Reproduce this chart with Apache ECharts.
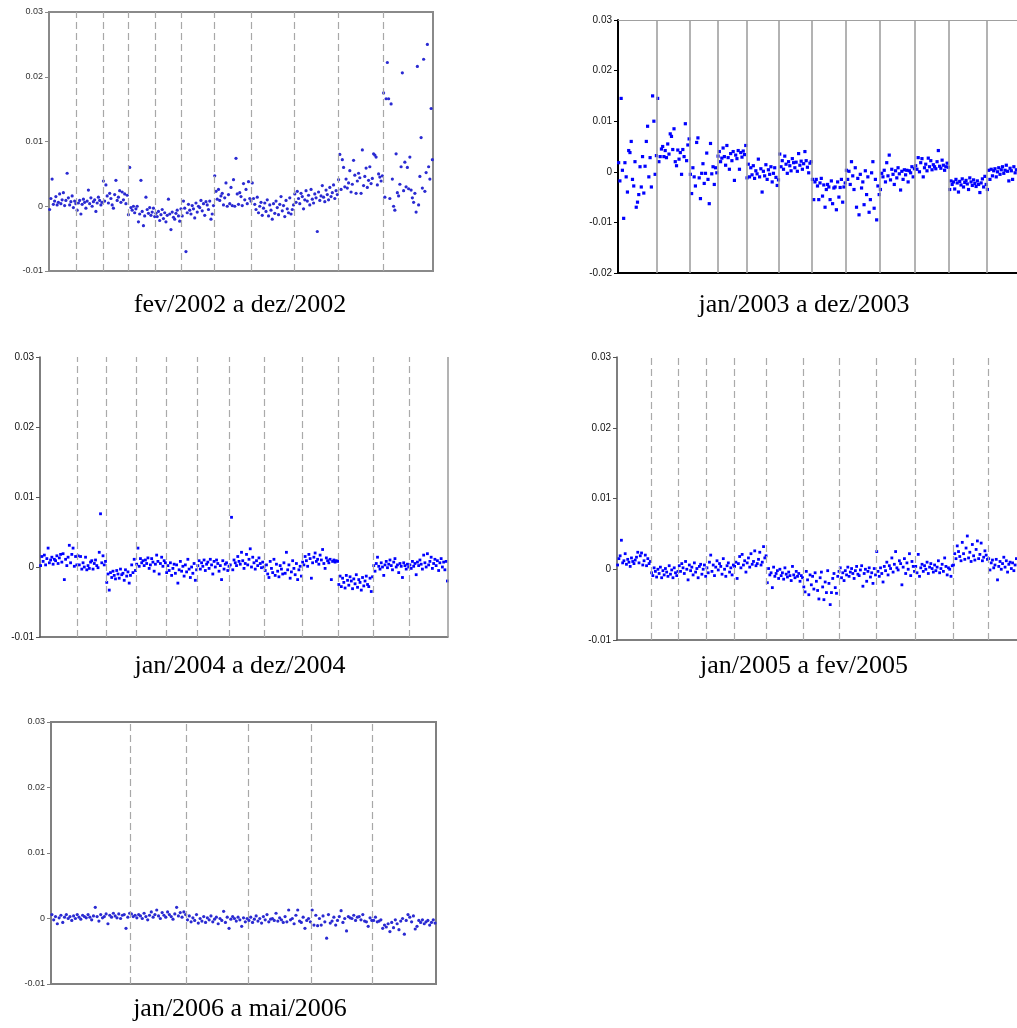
<!DOCTYPE html>
<html>
<head>
<meta charset="utf-8">
<script src="https://cdn.jsdelivr.net/npm/echarts@6/dist/echarts.min.js"></script>
<style>
html,body{margin:0;padding:0;background:#fff;}
#chart{width:1017px;height:1028px;}
</style>
</head>
<body>
<div id="chart"></div>
<script>
// Values are in thousandths (x 0.001), one array per month, in time order.
const SCALE = 0.001;

// Panel 1: fev/2002 a dez/2002
const y2002_fev = [-0.5,1.2,4.2,0.3,0.8,1.5,0.2,0.6,1.9,0.4,1.0,2.1,0.1,0.9,5.1,1.3,0.2,0.7,1.6,-0.2,0.8,0.4];
const y2002_mar = [-0.6,0.5,0.9,-1.2,0.3,1.1,0.6,-0.3,0.8,2.5,0.4,1.3,0.0,0.7,1.0,-0.8,0.5,1.4,0.9,0.2,0.6];
const y2002_abr = [3.9,0.8,3.3,1.6,0.5,2.0,1.2,0.2,-0.3,1.8,4.0,0.9,1.4,2.4,0.6,2.2,1.0,1.9,0.4,1.7];
const y2002_mai = [-1.3,6.0,-0.2,-0.6,0.0,-1.0,-0.4,0.0,-2.4,-1.2,4.0,-0.8,-3.0,-1.5,1.4,-0.5,-1.1,-0.2,-1.4,-0.9,-0.3,-1.6];
const y2002_jun = [-1.1,-1.6,-0.8,-2.2,-1.3,-0.5,-1.9,-1.0,-2.4,-1.4,1.1,-1.2,-3.6,-0.9,-1.7,-2.0,-1.1,-0.6,-1.5,-2.3,-0.4];
const y2002_jul = [-1.5,0.8,-0.3,-7.0,-1.0,0.3,-0.6,-1.2,0.1,-0.4,-1.8,0.5,-0.9,0.0,-0.2,0.9,-0.7,0.4,-1.4,0.7,0.2,-0.5,0.8,-2.0,-1.2,0.1];
const y2002_ago = [4.7,2.3,1.1,2.6,0.9,1.6,2.0,0.2,1.3,3.6,0.0,1.8,0.4,2.9,0.1,4.1,0.0,7.4,1.9,0.3,2.1,1.5,0.1,3.5,1.0,2.6,0.4,3.8,1.2,0.8];
const y2002_set = [3.6,1.2,0.3,-0.5,1.4,-1.0,0.0,0.6,-1.4,-0.3,0.5,-0.8,1.0,-1.5,0.2,-0.6,-2.0,0.4,-1.1,0.8,-0.2,-1.3,0.3,1.5,-0.7,0.1,-1.6,0.9,-0.4,-1.0,1.3,-1.2,-0.5,0.2];
const y2002_out = [1.9,0.6,2.3,1.2,0.4,2.0,1.5,-0.4,1.0,2.4,0.8,1.7,0.2,2.6,1.1,0.5,1.9,1.3,-3.9,2.2,0.9,1.6,3.2,1.4,0.7,2.5,1.8,1.0,2.9,1.5,2.1,3.3,1.2,2.4,1.8];
const y2002_nov = [4.1,8.0,2.6,7.2,6.0,3.0,4.2,2.8,3.6,5.5,2.2,3.4,7.1,4.8,2.0,3.9,5.1,4.4,2.0,8.7,3.2,4.6,5.9,2.9,4.0,6.1,3.5,4.3,8.1,7.9,7.6,3.3,5.0,4.5,3.9,4.7];
const y2002_dez = [17.5,1.4,16.6,22.2,16.6,1.2,15.8,4.2,0.0,-0.6,8.1,2.1,1.6,3.4,6.1,20.6,2.4,6.8,3.0,6.0,2.7,7.6,2.5,1.3,0.6,2.0,-0.9,21.6,0.2,4.6,10.6,2.8,22.7,2.3,5.2,25.0,6.1,4.2,15.1,7.2];

// Panel 2: jan/2003 a dez/2003
const y2003_jan = [1.8,-1.8,14.5,0.3,-9.2,1.8,-1.0,-4.0,4.2,3.8,6.0,-1.5,-2.8,2.0,-7.0,-6.0,-4.5,1.0,-3.0,3.0,-4.2,1.1,6.0,9.0,-1.0,2.8,-3.0,15.0,10.0,-0.5,3.2];
const y2003_fev = [14.5,2.0,3.0,4.5,5.0,3.0,4.2,2.8,5.5,3.5,7.5,7.0,4.4,8.5,2.0,1.2,4.3,2.5,3.8,-0.5,4.4,3.0,9.5,2.2,5.3,6.5];
const y2003_mar = [-0.5,-4.3,0.8,-1.0,-2.8,5.8,6.7,-1.2,-5.3,-0.3,1.6,-2.3,-0.3,3.7,-1.5,-6.3,5.6,-0.4,1.0,-2.5,0.8,-0.2];
const y2003_abr = [3.1,4.0,2.0,2.7,4.7,3.0,1.3,5.2,2.8,0.5,3.6,2.2,4.0,-1.7,3.3,2.6,4.2,0.5,3.8,2.9,4.1,3.4,5.2];
const y2003_mai = [-1.2,1.5,-1.0,0.8,-0.6,1.2,-1.3,0.2,-0.4,2.5,-1.0,0.6,-4.0,0.1,-0.8,1.4,-1.5,0.4,-0.5,1.0,-2.0,-0.3,0.8,-1.1,-2.7,-1.6];
const y2003_jun = [3.5,1.0,2.2,0.5,3.1,1.5,-0.3,2.0,1.2,0.2,2.6,1.8,0.8,1.9,0.1,3.6,1.3,2.1,0.5,1.6,4.0,2.2,0.9,-0.2,1.7,2.0];
const y2003_jul = [-1.5,-5.5,-2.0,-1.5,-2.8,-5.5,-2.2,-1.3,-4.8,-2.6,-7.0,-3.5,-2.5,-3.0,-5.5,-1.8,-6.3,-3.2,-3.0,-7.5,-2.0,-5.0,-3.1,-1.5,-6.0,-3.0,-2.2];
const y2003_ago = [0.3,-1.5,0.1,-2.5,2.0,-0.8,-3.5,0.8,-7.0,-1.3,-8.5,-0.5,-3.2,-2.0,-6.5,0.2,-4.5,-1.0,-8.0,-5.5,-0.2,2.0,-7.2,-1.5,-9.5,-2.8,-4.5];
const y2003_set = [-3.5,-0.3,-1.0,0.3,-2.0,1.8,-0.8,3.3,-1.6,0.5,-0.5,-2.5,0.2,-1.2,0.8,-0.4,-3.6,0.1,-1.5,0.4,-0.6,0.3,-2.0,0.2,-0.2,1.0,-1.0,0.6];
const y2003_out = [1.2,0.5,2.8,0.0,1.8,2.6,-1.0,0.8,1.5,0.2,2.7,1.0,2.2,0.4,1.4,1.0,0.6,2.0,4.2,1.1,0.7,2.3,1.3,0.3,1.0,1.7,0.9];
const y2003_nov = [-3.5,-1.8,-2.5,-2.0,-3.4,-1.5,-2.2,-4.0,-1.9,-2.6,-1.4,-3.0,-2.1,-1.7,-2.4,-3.5,-1.2,-2.0,-2.7,-1.6,-2.3,-2.9,-1.8,-2.5,-4.1,-2.2,-1.4,-3.0,-0.9,-2.5];
const y2003_dez = [-3.5,0.3,-1.5,0.5,-0.8,0.2,0.6,-1.0,0.0,0.8,-0.5,0.4,1.0,-0.3,0.3,1.3,0.1,-1.8,0.7,0.2,-1.5,1.0,-0.2,0.4];

// Panel 3: jan/2004 a dez/2004
const y2004_jan = [0.2,1.5,0.8,1.7,0.3,1.2,2.7,0.6,1.0,1.4,0.4,1.1,0.9,1.6,0.5,1.3,1.8,0.7,1.9,-1.8,1.1,0.2,1.4,3.1,0.6,1.8,2.7,0.1,1.5,0.3];
const y2004_fev = [1.6,0.3,1.5,-0.3,0.6,0.0,1.4,-0.4,0.2,-0.2,0.7,0.9,-0.3,0.5,1.0,0.2,-0.1,2.1,7.6,0.6,1.6,0.3,0.8];
const y2004_mar = [-2.2,-1.0,-3.3,-0.8,-1.5,-0.6,-1.2,-1.7,-0.5,-1.0,-1.6,-0.3,-1.1,-0.9,-1.9,-0.4,-1.3,-0.7,-2.3,-1.2,0.3,-0.8,1.1,-0.5];
const y2004_abr = [0.4,2.7,0.1,1.2,0.6,0.9,0.2,1.0,0.5,1.3,-0.2,0.3,1.2,0.7,-0.6,0.4,1.7,0.8,-1.0,0.5,1.4,0.1,0.9,0.6];
const y2004_mai = [-0.8,0.2,-0.5,0.6,-1.2,-0.2,0.4,-0.9,0.3,-2.3,-0.4,0.8,-0.6,0.1,-1.3,0.3,-0.7,1.1,-0.3,-1.5,0.0,-0.9,0.5,-1.9,-0.4];
const y2004_jun = [0.2,0.9,-0.3,0.6,0.1,1.0,-0.5,0.4,0.7,-0.2,1.1,0.3,-1.0,0.8,0.0,1.0,0.5,-0.6,0.2,-1.8,0.9,-0.3,0.4,0.6,-0.5,0.1];
const y2004_jul = [0.3,7.1,-0.4,1.0,0.6,0.2,1.5,0.8,0.4,2.1,0.9,-0.2,0.5,1.8,0.3,1.1,2.6,0.0,1.4,0.6,-0.3,0.9,0.2,1.3,0.5,-0.1,0.7,0.0];
const y2004_ago = [-0.5,0.3,-1.0,-1.5,0.8,-0.2,-0.8,1.1,-1.2,0.4,-0.6,-1.4,0.2,-0.3,-1.0,0.6,-0.9,2.1,-0.4,0.3,-1.6,-0.7,0.9,-0.2,-1.1,0.5,-1.8,-0.4,0.1,-1.3];
const y2004_set = [0.7,0.3,1.5,0.9,0.1,1.8,1.2,-1.6,0.6,1.4,2.0,0.8,1.1,0.4,1.7,1.0,2.5,0.5,-0.2,1.3,0.9,0.6,1.1,-1.8,0.8,1.0,0.7,0.9,0.8];
const y2004_out = [-2.5,-1.3,-2.8,-1.6,-2.2,-3.0,-1.2,-1.9,-2.6,-1.4,-2.0,-3.1,-1.7,-2.4,-1.1,-2.9,-1.8,-2.2,-3.3,-1.5,-2.7,-2.0,-1.3,-2.5,-2.8,-1.6,-3.5,-1.4];
const y2004_nov = [0.2,-0.6,0.5,1.4,0.1,-0.3,0.6,0.0,-1.2,0.3,0.8,-0.1,0.4,1.0,0.2,-0.4,0.7,1.2,0.0,0.3,-0.8,0.5,0.1,-1.5,0.6,0.2,-0.3,0.4,0.0];
const y2004_dez = [0.3,-0.2,0.8,0.1,0.5,-1.1,0.7,0.2,1.0,0.4,-0.3,1.7,0.6,0.0,1.9,0.3,0.8,1.4,-0.2,0.5,1.1,0.2,0.9,-0.5,0.6,1.2,0.0,0.7,-0.4,0.8,-2.0];

// Panel 4: jan/2005 a fev/2005
const y2005_m01 = [0.6,1.5,1.9,4.1,0.9,1.2,2.2,0.7,1.4,1.0,0.4,1.6,1.1,0.8,1.3,1.7,2.4,0.9,1.9,2.3,0.6,1.2,2.0,0.5,1.5,0.8,1.1];
const y2005_m02 = [-0.5,-0.9,0.2,-0.3,-1.1,0.0,-0.6,0.3,-1.2,-0.2,-0.8,0.1,-0.4,-1.0,0.5,-0.7,-0.1,-1.2,0.2,-0.5,-0.9,-0.3];
const y2005_m03 = [0.5,-0.3,0.8,0.2,-0.6,1.1,0.0,-1.5,0.6,-0.2,0.3,-0.8,0.9,-0.4,0.1,-1.2,0.4,0.7,-0.7,0.0,0.6,-1.0];
const y2005_m04 = [0.2,-0.5,1.0,2.0,-0.3,0.6,-0.9,0.3,1.2,-0.1,0.8,0.4,-0.7,1.5,0.0,-1.0,0.5,0.9,-0.4,0.2,-0.8,0.6];
const y2005_m05 = [0.4,1.0,-1.3,0.8,1.8,0.2,2.1,0.6,1.2,-0.4,0.9,1.6,0.3,2.2,0.7,1.1,2.6,0.5,0.8,1.4,2.4,0.6,1.0,3.2,1.6,1.9];
const y2005_m06 = [-1.9,0.1,-0.8,-0.5,-2.6,0.3,-1.0,-0.6,-0.2,-1.3,0.0,-0.9,-0.5,-1.4,0.2,-0.7,-1.1,-0.4,-0.9,-1.6,0.4,-0.8,-1.2,-0.3,-1.0,-0.6,-1.7,-0.9,-1.2];
const y2005_m07 = [-2.5,-3.2,-0.3,-1.5,-3.6,-0.8,-2.2,-1.0,-2.8,-0.5,-1.7,-3.0,-4.2,-1.2,-0.4,-2.5,-4.3,-1.8,-3.3,-0.2,-2.0,-5.0,-3.3,-1.3,-0.6,-2.6,-3.4,-1.0,-0.3];
const y2005_m08 = [0.2,-1.2,-0.5,-1.6,-0.2,-0.8,0.3,-1.0,-0.4,0.1,-0.6,-1.3,-0.2,0.4,-0.7,-0.9,-0.1,0.5,-2.4,-0.6,0.0,-1.7,-0.3,0.2,-1.1,-0.5,-2.0,0.1,-0.8];
const y2005_m09 = [2.5,-0.3,-1.0,0.2,-0.6,-1.8,0.4,-0.2,1.0,-0.8,0.5,0.1,1.6,-0.4,0.7,2.5,0.2,-0.1,1.2,0.8,-2.2,0.3,1.5,-0.6,0.9,0.0,2.2,-0.9,1.1,0.4,-0.3];
const y2005_m10 = [0.4,-0.5,2.1,-1.0,0.2,0.7,-0.3,0.5,0.0,1.0,-0.6,0.3,0.8,0.1,-0.4,0.6,-0.2,0.3,1.2,-0.5,0.1,0.7,-0.3,1.6,0.4,-0.8,0.2,0.0,-1.0,0.5];
const y2005_m11 = [0.6,2.2,1.5,3.3,2.5,1.8,1.2,3.8,2.2,1.4,3.0,4.7,1.6,2.4,1.1,3.5,1.9,1.3,2.8,4.0,1.5,2.1,3.7,1.2,1.7,2.6,2.0,1.4];
const y2005_m12 = [1.5,-0.1,0.9,1.3,0.2,0.6,1.4,-1.5,0.4,1.1,0.0,0.8,1.7,0.3,1.2,-0.4,0.7,1.0,0.1,0.9,-0.2,0.6,1.5];

// Panel 5: jan/2006 a mai/2006
const y2006_p1 = [0.6,-0.2,0.3,-0.8,0.1,0.5,-0.6,0.2,0.6,0.0,0.3,-0.3,0.4,0.0,0.6,0.2,-0.1,0.5,0.3,0.1,0.6,0.2,-0.2,0.4,1.7,0.3,-0.4,0.6,0.1,0.3,0.7,-0.8,0.5,0.2,0.8,0.4,0.1,0.7,0.0,0.5,0.6,-1.5,0.2,0.8];
const y2006_p2 = [0.7,0.3,0.5,0.1,0.6,0.4,0.0,0.8,0.3,-0.2,0.5,1.0,0.2,0.6,1.3,0.4,0.0,0.9,0.5,0.2,1.0,0.6,0.3,-0.1,0.7,1.7,0.4,0.9,0.2,1.0,0.6];
const y2006_p3 = [-0.2,0.4,-0.5,0.1,-0.3,0.6,-0.7,0.0,-0.4,0.3,-0.6,0.1,-0.2,0.4,-0.5,-0.1,0.2,-0.8,0.0,-0.3,1.1,-0.6,0.2,-1.5,-0.1,0.3,0.0,-0.4,0.2,-0.2,-1.2,0.1,-0.5,0.0];
const y2006_p4 = [-0.3,0.2,-0.6,-0.1,0.4,-0.4,0.0,-0.7,0.3,-0.2,0.6,-0.5,-0.1,0.0,-0.3,0.8,-0.4,0.1,-0.2,-0.6,0.3,-0.5,1.3,-0.2,0.0,-0.8,0.5,1.3,-0.4,-0.6,0.2,-1.5,-0.3,0.0,-0.5];
const y2006_p5 = [1.3,-1.0,0.5,-1.1,0.0,-1.0,0.4,-0.5,-3.0,0.6,-0.7,-0.4,0.2,-1.0,-0.3,0.3,1.2,-0.6,0.0,-1.9,0.3,0.1,0.0,0.5,-0.3,0.2,0.3,-0.2,0.6,-0.4,-0.5,-1.2,0.1,-0.3];
const y2006_p6 = [-0.3,0.2,-0.5,-0.4,-0.2,-1.5,-1.0,-1.3,-0.8,-2.0,-0.6,-1.4,-0.2,-0.8,-1.7,-0.4,0.0,-2.4,-0.3,0.6,0.2,-0.5,0.4,-1.6,-1.2,-0.3,-0.6,-0.2,-0.8,-0.5,-0.3,-1.0,-0.6,-0.2,-0.7];

const panelMonths = [
  [y2002_fev,y2002_mar,y2002_abr,y2002_mai,y2002_jun,y2002_jul,y2002_ago,y2002_set,y2002_out,y2002_nov,y2002_dez],
  [y2003_jan,y2003_fev,y2003_mar,y2003_abr,y2003_mai,y2003_jun,y2003_jul,y2003_ago,y2003_set,y2003_out,y2003_nov,y2003_dez],
  [y2004_jan,y2004_fev,y2004_mar,y2004_abr,y2004_mai,y2004_jun,y2004_jul,y2004_ago,y2004_set,y2004_out,y2004_nov,y2004_dez],
  [y2005_m01,y2005_m02,y2005_m03,y2005_m04,y2005_m05,y2005_m06,y2005_m07,y2005_m08,y2005_m09,y2005_m10,y2005_m11,y2005_m12],
  [y2006_p1,y2006_p2,y2006_p3,y2006_p4,y2006_p5,y2006_p6]
];
const panelTitles = ['fev/2002 a dez/2002','jan/2003 a dez/2003','jan/2004 a dez/2004','jan/2005 a fev/2005','jan/2006 a mai/2006'];
const yMins = [-0.01,-0.02,-0.01,-0.01,-0.01];
const yMaxs = [0.03,0.03,0.03,0.03,0.03];

// layout / style (not data)
const layout = [
  {left:49, top:12, width:384, height:259, tx:240, ty:305},
  {left:618, top:20, width:401, height:253, tx:804, ty:305},
  {left:40, top:357, width:408, height:280, tx:240, ty:666},
  {left:617, top:357, width:400, height:283, tx:804, ty:666},
  {left:51, top:722, width:385, height:262, tx:240, ty:1009}
];
const sty = [
  {frame:true, frameColor:'#8a8a8a', frameW:2, axisColor:'#8a8a8a', axisW:2, xAxisColor:'#8a8a8a', lab:9, labColor:'#333', sep:'dashed', sepColor:'#a8a8a8', dot:'#2a2ad2', sym:'circle', size:3.2, rightEdge:false, topEdge:false},
  {frame:false, axisColor:'#000', axisW:2, xAxisColor:'#000', lab:10, labColor:'#111', sep:'solid', sepColor:'#9a9a9a', dot:'#0000ff', sym:'rect', size:3.2, rightEdge:false, topEdge:true},
  {frame:false, axisColor:'#555', axisW:1.5, xAxisColor:'#555', lab:10, labColor:'#111', sep:'dashed', sepColor:'#aaaaaa', dot:'#0000ff', sym:'rect', size:2.8, rightEdge:true, topEdge:false},
  {frame:false, axisColor:'#555', axisW:1.5, xAxisColor:'#555', lab:10, labColor:'#111', sep:'dashed', sepColor:'#aaaaaa', dot:'#0000ff', sym:'rect', size:2.8, rightEdge:false, topEdge:false},
  {frame:true, frameColor:'#808080', frameW:2, axisColor:'#808080', axisW:2, xAxisColor:'#808080', lab:9, labColor:'#333', sep:'dashed', sepColor:'#a8a8a8', dot:'#2a2ad2', sym:'circle', size:3.2, rightEdge:false, topEdge:false}
];

function buildPanel(months){
  const pts = [], breaks = [];
  let start = 0;
  months.forEach((arr, mi) => {
    if (mi > 0) breaks.push(start);
    arr.forEach((v, j) => pts.push([start + j + 0.5, v * SCALE]));
    start += arr.length;
  });
  return {pts, breaks, total: start};
}

const grids = [], xAxes = [], yAxes = [], series = [], graphics = [];
panelMonths.forEach((months, i) => {
  const p = buildPanel(months);
  const L = layout[i], S = sty[i];
  grids.push({left:L.left, top:L.top, width:L.width, height:L.height,
    show:S.frame, borderColor:S.frameColor||'#888', borderWidth:S.frameW||0, backgroundColor:'#fff'});
  xAxes.push({type:'value', gridIndex:i, min:0, max:p.total,
    axisLine:{show:true, onZero:false, lineStyle:{color:S.xAxisColor, width:S.axisW}},
    axisTick:{show:false}, axisLabel:{show:false}, splitLine:{show:false}});
  yAxes.push({type:'value', gridIndex:i, min:yMins[i], max:yMaxs[i], interval:0.01,
    axisLine:{show:true, onZero:false, lineStyle:{color:S.axisColor, width:S.axisW}},
    axisTick:{show:true, length:4, lineStyle:{color:S.axisColor, width:1}},
    axisLabel:{fontSize:S.lab, color:S.labColor, fontFamily:'Liberation Sans, Arial, sans-serif', margin:6,
      formatter: v => String(parseFloat(v.toFixed(4)))},
    splitLine:{show:false}});
  const mlData = p.breaks.map(b => ({xAxis:b}));
  if (S.rightEdge) mlData.push({xAxis:p.total, lineStyle:{type:'solid', color:'#9a9a9a', width:1.5}});
  if (S.topEdge) mlData.push({yAxis:yMaxs[i], lineStyle:{type:'solid', color:'#a0a0a0', width:1.2}});
  series.push({type:'scatter', xAxisIndex:i, yAxisIndex:i, data:[], z:1, silent:true,
    markLine:{silent:true, symbol:['none','none'], label:{show:false}, animation:false,
      lineStyle:{type: S.sep==='dashed' ? [7,4] : 'solid', color:S.sepColor, width: S.sep==='dashed'?1.2:1.5},
      data: mlData}});
  series.push({type:'scatter', xAxisIndex:i, yAxisIndex:i, data:p.pts, z:3,
    symbol:S.sym, symbolSize:S.size, itemStyle:{color:S.dot, opacity:1}});
  graphics.push({type:'text', x:L.tx, y:L.ty, style:{text:panelTitles[i], fill:'#000',
    font:'26px "Liberation Serif", "Times New Roman", serif', textAlign:'center', textVerticalAlign:'middle'}});
});

const chart = echarts.init(document.getElementById('chart'), null, {renderer:'canvas'});
chart.setOption({
  animation:false,
  backgroundColor:'#fff',
  grid:grids, xAxis:xAxes, yAxis:yAxes, series:series, graphic:graphics
});
</script>
</body>
</html>
